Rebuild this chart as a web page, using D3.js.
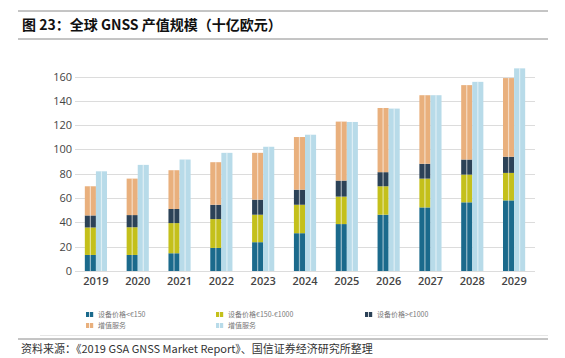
<!DOCTYPE html>
<html>
<head>
<meta charset="utf-8">
<script src="https://cdn.jsdelivr.net/npm/d3@7"></script>
<style>
  body { margin: 0; background: #fff; }
  svg { display: block; }
</style>
</head>
<body>
<script>
// data (billion euro)
var years = ["2019","2020","2021","2022","2023","2024","2025","2026","2027","2028","2029"];
var devLow = [13.2, 13.2, 14.6, 19.0, 23.7, 31.1, 38.6, 46.3, 52.3, 56.5, 58.1];
var devMid = [22.6, 22.8, 24.8, 23.7, 22.6, 23.4, 22.6, 23.4, 23.7, 22.8, 22.6];
var devHigh = [9.9, 10.0, 11.6, 11.8, 12.4, 12.4, 13.2, 11.6, 12.2, 12.4, 13.3];
var services = [24.0, 30.0, 31.9, 35.0, 38.5, 43.3, 48.5, 52.8, 56.4, 61.2, 64.7];
var services2 = [82.0, 87.3, 91.7, 97.2, 102.2, 112.1, 122.6, 133.6, 144.6, 155.6, 166.7];
var yTicks = [0, 20, 40, 60, 80, 100, 120, 140, 160];

var stackKeys = ["low","mid","high","svc"];
var colors = {low:"#1b6a8c", mid:"#c4c01b", high:"#2c4257", svc:"#e9b07d", svc2:"#b8dbe9"};
var legendItems = [
  {key:"low", label:"设备价格<€150"},
  {key:"mid", label:"设备价格€150-€1000"},
  {key:"high", label:"设备价格>€1000"},
  {key:"svc", label:"增值服务"},
  {key:"svc2", label:"增值服务"}
];

var rows = years.map(function(y,i){
  return {year:y, low:devLow[i], mid:devMid[i], high:devHigh[i], svc:services[i], svc2:services2[i]};
});

var W = 565, H = 358;
var svg = d3.select("body").append("svg").attr("width",W).attr("height",H);
svg.append("rect").attr("width",W).attr("height",H).attr("fill","#fff");

// title block
svg.append("line").attr("x1",18).attr("x2",548).attr("y1",11).attr("y2",11)
  .attr("stroke","#8a8a8a").attr("stroke-width",1);
svg.append("line").attr("x1",18).attr("x2",548).attr("y1",39).attr("y2",39)
  .attr("stroke","#8a8a8a").attr("stroke-width",1);
svg.append("text").attr("x",22).attr("y",30)
  .attr("font-family","'Noto Sans CJK SC', 'Noto Sans', sans-serif")
  .attr("font-size",14).attr("font-weight","bold").attr("fill","#111")
  .text("图 23：全球 GNSS 产值规模（十亿欧元）");

// scales
var x = d3.scaleBand().domain(years).range([75,535]).paddingInner(0.47).paddingOuter(0.235);
var xs = d3.scaleBand().domain(["stack","svc2"]).range([0, x.bandwidth()]);
var y = d3.scaleLinear().domain([0,160]).range([271,76.5]);

// grid
svg.append("g").selectAll("line").data(yTicks).join("line")
  .attr("x1",75).attr("x2",535)
  .attr("y1",function(d){return Math.round(y(d))+0.5;})
  .attr("y2",function(d){return Math.round(y(d))+0.5;})
  .attr("stroke","#dcdcdc").attr("stroke-width",1);

// y axis labels
var yAxis = svg.append("g").attr("transform","translate(72,0)")
  .call(d3.axisLeft(y).tickValues(yTicks).tickSize(0).tickPadding(0));
yAxis.select(".domain").remove();
yAxis.selectAll("text").attr("font-family","'Open Sans', sans-serif")
  .attr("font-size",11).attr("fill","#444");

// x axis labels
var xAxis = svg.append("g").attr("transform","translate(0,277)")
  .call(d3.axisBottom(x).tickSize(0).tickPadding(0));
xAxis.select(".domain").remove();
xAxis.selectAll("text").attr("font-family","'Open Sans', sans-serif")
  .attr("font-size",11).attr("font-weight","600").attr("fill","#444");

// stacked bars
var stack = d3.stack().keys(stackKeys)(rows);
var groups = svg.append("g").selectAll("g").data(stack).join("g")
  .attr("fill",function(d){return colors[d.key];});
groups.selectAll("rect").data(function(d){return d;}).join("rect")
  .attr("x",function(d){return x(d.data.year)+xs("stack");})
  .attr("width",xs.bandwidth())
  .attr("y",function(d){return y(d[1]);})
  .attr("height",function(d){return y(d[0])-y(d[1]);});

// second service bar
svg.append("g").selectAll("rect").data(rows).join("rect")
  .attr("x",function(d){return x(d.year)+xs("svc2");})
  .attr("width",xs.bandwidth())
  .attr("y",function(d){return y(d.svc2);})
  .attr("height",function(d){return y(0)-y(d.svc2);})
  .attr("fill",colors.svc2);

// thin light seam in the middle of each bar (as in the source scan)
var seams = [];
rows.forEach(function(d){
  seams.push({x:x(d.year)+xs("stack")+xs.bandwidth()/2, top:d.low+d.mid+d.high+d.svc});
  seams.push({x:x(d.year)+xs("svc2")+xs.bandwidth()/2, top:d.svc2});
});
svg.append("g").selectAll("rect").data(seams).join("rect")
  .attr("x",function(d){return d.x-0.6;}).attr("width",1.2)
  .attr("y",function(d){return y(d.top);})
  .attr("height",function(d){return y(0)-y(d.top);})
  .attr("fill","#fff").attr("opacity",0.55);

// legend
var legPos = [[86,315],[216,315],[365,315],[86,326],[216,326]];
var leg = svg.append("g").selectAll("g").data(legendItems).join("g")
  .attr("transform",function(d,i){return "translate("+legPos[i][0]+","+legPos[i][1]+")";});
leg.append("rect").attr("x",0).attr("y",-3).attr("width",3.2).attr("height",5)
  .attr("fill",function(d){return colors[d.key];});
leg.append("rect").attr("x",4).attr("y",-3).attr("width",3.2).attr("height",5)
  .attr("fill",function(d){return colors[d.key];});
leg.append("text").attr("x",12).attr("y",2)
  .attr("font-family","'Noto Sans CJK SC', sans-serif")
  .attr("font-size",7).attr("fill","#777")
  .text(function(d){return d.label;});

// footer
svg.append("line").attr("x1",40).attr("x2",548).attr("y1",335.5).attr("y2",335.5)
  .attr("stroke","#e6e6e6").attr("stroke-width",1);
svg.append("line").attr("x1",18).attr("x2",548).attr("y1",339).attr("y2",339)
  .attr("stroke","#8a8a8a").attr("stroke-width",1);
svg.append("text").attr("x",21).attr("y",353)
  .attr("font-family","'Noto Sans CJK SC', sans-serif")
  .attr("font-size",11).attr("fill","#333")
  .text("资料来源：《2019 GSA GNSS Market Report》、国信证券经济研究所整理");
</script>
</body>
</html>
